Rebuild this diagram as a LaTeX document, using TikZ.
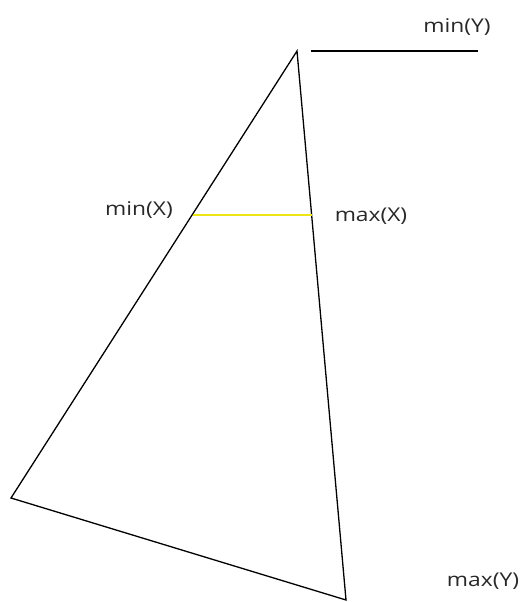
\documentclass[tikz,border=0pt]{standalone}
\usepackage{fontspec}
\setmainfont{Open Sans}
\definecolor{edgeyellow}{RGB}{238,230,20}
\definecolor{labelgray}{RGB}{40,40,40}
\tikzset{
  edge/.style={draw=black, line width=1.3pt},
  yedge/.style={draw=edgeyellow, line width=1.3pt},
  lbl/.style={font=\fontsize{19}{22}\selectfont, text=labelgray, inner sep=0pt, xscale=1.2}
}
\begin{document}
\begin{tikzpicture}[x=1pt,y=-1pt]
\useasboundingbox (0,0) rectangle (522,602);
\coordinate (T) at (297,51);
\coordinate (L) at (11,498);
\coordinate (B) at (346,600);
\coordinate (h1) at (311,51);
\coordinate (h2) at (478,51);
\coordinate (y1) at (193,215);
\coordinate (y2) at (312,215);
\draw[edge] (T) -- (L) -- (B) -- cycle;
\draw[edge] (h1) -- (h2);
\draw[yedge] (y1) -- (y2);
\node[lbl] (minY) at (457,27) {min(Y)};
\node[lbl] (minX) at (139,210) {min(X)};
\node[lbl] (maxX) at (371,216) {max(X)};
\node[lbl] (maxY) at (483,581) {max(Y)};
\end{tikzpicture}
\end{document}
